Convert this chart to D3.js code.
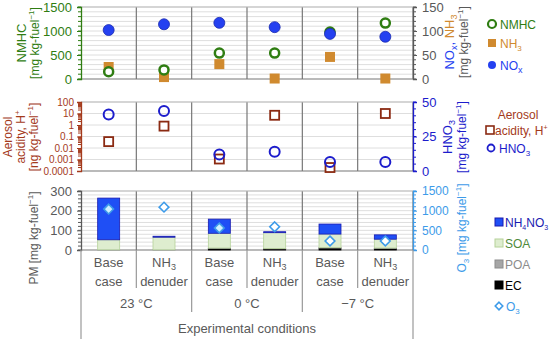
<!DOCTYPE html>
<html>
<head>
<meta charset="utf-8">
<script src="https://cdn.jsdelivr.net/npm/d3@7"></script>
<style>
  body { margin: 0; background: #fff; }
</style>
</head>
<body>
<div id="chart"></div>
<script>
// data
var cats = ["b23", "d23", "b0", "d0", "bm7", "dm7"];
var catTop = ["Base", "NH3", "Base", "NH3", "Base", "NH3"];
var catBottom = ["case", "denuder", "case", "denuder", "case", "denuder"];
var temps = ["23 °C", "0 °C", "−7 °C"];

var nmhc = [150, 190, 540, 540, 980, 1165];      // left axis, mg/kg-fuel
var nh3 = [25, 4, 31, 1, 46, 1];                 // right axis
var nox = [102, 114, 117, 108, 94, 88];          // right axis

var acidity = [0.036, 0.8, 0.0011, 7, 0.0002, 10];   // ng/kg-fuel, log
var hno3 = [41, 43.5, 12, 14, 6.5, 6.5];

var ec = [0, 0, 8, 6, 10, 8];
var poa = [1, 1, 2, 2, 2, 2];
var soa = [51, 64, 75, 80, 69, 45];
var nh4no3 = [212, 5, 72, 5, 51, 22];
var o3 = [1040, 1090, 560, 590, 230, 230];

var W = 550, H = 339;
var FONT = "'Liberation Sans', Arial, Helvetica, sans-serif";
var svg = d3.select("#chart").append("svg").attr("width", W).attr("height", H);

var x = d3.scaleBand().domain(cats).range([81, 413]).padding(0);
var xc = function(i) { return x(cats[i]) + x.bandwidth() / 2; };

var grey = "#595959", gridCol = "#dedede";
var green = "#2f7d12", orange = "#d08a2f", blue = "#2440f0";
var brown = "#a43a1c", navy = "#1c1ccc", sky = "#3d9be9";

var yTop = d3.scaleLinear().domain([0, 1500]).range([79, 7]);
var yTopR = d3.scaleLinear().domain([0, 150]).range([79, 7]);
var yMid = d3.scaleLog().domain([0.0001, 100]).range([171, 102]);
var yMidR = d3.scaleLinear().domain([0, 50]).range([171, 102]);
var yBot = d3.scaleLinear().domain([0, 300]).range([250, 191]);
var yBotR = d3.scaleLinear().domain([0, 1500]).range([250, 191]);

// gridlines
function grid(vals, sc) {
    svg.append("g").selectAll("line").data(vals).enter().append("line")
        .attr("x1", 81).attr("x2", 413)
        .attr("y1", d => sc(d)).attr("y2", d => sc(d))
        .attr("stroke", gridCol).attr("stroke-width", 1);
}
grid(d3.range(100, 1501, 100), yTop);
grid([0.001, 0.01, 0.1, 1, 10, 100], yMid);
grid(d3.range(20, 301, 20), yBot);

// column dividers inside panels
[[7, 79], [102, 171], [191, 250]].forEach(function(p) {
    svg.append("g").selectAll("line").data(cats.slice(1).concat(["end"])).enter().append("line")
        .attr("x1", (d, i) => i < 5 ? x(d) : 413).attr("x2", (d, i) => i < 5 ? x(d) : 413)
        .attr("y1", p[0]).attr("y2", p[1])
        .attr("stroke", "#777").attr("stroke-width", 1.2);
    svg.append("line").attr("x1", 81).attr("x2", 413).attr("y1", p[0]).attr("y2", p[0])
        .attr("stroke", "#bbb");
    svg.append("line").attr("x1", 81).attr("x2", 413).attr("y1", p[1]).attr("y2", p[1])
        .attr("stroke", "#777").attr("stroke-width", 1.2);
});

// axes
var fmt = d3.format("d");
function styleAxis(g, col, size) {
    g.attr("font-family", FONT);
    g.select(".domain").attr("stroke", col).attr("stroke-width", 1.3);
    g.selectAll(".tick line").attr("stroke", col);
    g.selectAll(".tick text").attr("fill", col).style("font-size", size + "px");
}
function minorTicks(xPos, vals, sc, col, dir) {
    svg.append("g").selectAll("line").data(vals).enter().append("line")
        .attr("x1", xPos).attr("x2", xPos + dir * 3)
        .attr("y1", d => sc(d)).attr("y2", d => sc(d))
        .attr("stroke", col).attr("stroke-width", 1);
}

var gA = svg.append("g").attr("transform", "translate(81,0)")
    .call(d3.axisLeft(yTop).tickValues([0, 500, 1000, 1500]).tickFormat(fmt).tickSize(4).tickPadding(5));
styleAxis(gA, green, 13);
minorTicks(81, d3.range(0, 1501, 100), yTop, green, -1);

var gB = svg.append("g").attr("transform", "translate(413,0)")
    .call(d3.axisRight(yTopR).tickValues([0, 50, 100, 150]).tickFormat(fmt).tickSize(4).tickPadding(5));
styleAxis(gB, grey, 13);
minorTicks(413, d3.range(0, 151, 10), yTopR, grey, 1);

var gC = svg.append("g").attr("transform", "translate(81,0)")
    .call(d3.axisLeft(yMid).tickValues([0.0001, 0.001, 0.01, 0.1, 1, 10, 100])
        .tickFormat(d => String(d)).tickSize(4).tickPadding(3));
styleAxis(gC, brown, 10);
var logMinor = [];
[0.0001, 0.001, 0.01, 0.1, 1, 10].forEach(function(b) {
    for (var k = 2; k < 10; k++) logMinor.push(b * k);
});
minorTicks(81, logMinor, yMid, brown, -1);

var gD = svg.append("g").attr("transform", "translate(413,0)")
    .call(d3.axisRight(yMidR).tickValues([0, 25, 50]).tickFormat(fmt).tickSize(4).tickPadding(5));
styleAxis(gD, navy, 13);
minorTicks(413, d3.range(0, 51, 5), yMidR, navy, 1);

var gE = svg.append("g").attr("transform", "translate(81,0)")
    .call(d3.axisLeft(yBot).tickValues([0, 100, 200, 300]).tickFormat(fmt).tickSize(4).tickPadding(5));
styleAxis(gE, grey, 13);
minorTicks(81, d3.range(0, 301, 20), yBot, grey, -1);

var gF = svg.append("g").attr("transform", "translate(413,0)")
    .call(d3.axisRight(yBotR).tickValues([0, 500, 1000, 1500]).tickFormat(fmt).tickSize(4).tickPadding(5));
styleAxis(gF, sky, 12);
minorTicks(413, d3.range(0, 1501, 100), yBotR, sky, 1);

// top panel marks
svg.append("g").selectAll("rect").data(nh3).enter().append("rect")
    .attr("x", (d, i) => xc(i) - 5).attr("y", d => yTopR(d) - 5)
    .attr("width", 10).attr("height", 10).attr("fill", orange);
svg.append("g").selectAll("circle").data(nmhc).enter().append("circle")
    .attr("cx", (d, i) => xc(i)).attr("cy", d => yTop(d)).attr("r", 4.5)
    .attr("fill", "#fff").attr("stroke", green).attr("stroke-width", 2.5);
svg.append("g").selectAll("circle").data(nox).enter().append("circle")
    .attr("cx", (d, i) => xc(i)).attr("cy", d => yTopR(d)).attr("r", 5.5)
    .attr("fill", blue).attr("stroke", "#1a2ab0").attr("stroke-width", 0.8);

// middle panel marks
svg.append("g").selectAll("rect").data(acidity).enter().append("rect")
    .attr("x", (d, i) => xc(i) - 4.5).attr("y", d => yMid(d) - 4.5)
    .attr("width", 9).attr("height", 9).attr("fill", "#fff")
    .attr("stroke", "#8b2a12").attr("stroke-width", 1.8);
svg.append("g").selectAll("circle").data(hno3).enter().append("circle")
    .attr("cx", (d, i) => xc(i)).attr("cy", d => yMidR(d)).attr("r", 5)
    .attr("fill", "none").attr("stroke", navy).attr("stroke-width", 2);

// bottom panel stacked bars
var stackRows = cats.map(function(c, i) {
    return { cat: c, EC: ec[i], POA: poa[i], SOA: soa[i], NH4NO3: nh4no3[i] };
});
var keys = ["EC", "POA", "SOA", "NH4NO3"];
var fills = { EC: "#000", POA: "#a6a6a6", SOA: "#deedcf", NH4NO3: "#1f4ff5" };
var strokes = { EC: "#000", POA: "#8c8c8c", SOA: "#b6d29a", NH4NO3: "#1a1ab0" };
var series = d3.stack().keys(keys)(stackRows);
var bw = 22;
svg.append("g").selectAll("g").data(series).enter().append("g")
    .each(function(s) {
        d3.select(this).selectAll("rect").data(s).enter().append("rect")
            .attr("x", d => x(d.data.cat) + x.bandwidth() / 2 - bw / 2)
            .attr("y", d => yBot(d[1]))
            .attr("width", bw)
            .attr("height", d => Math.max(0, yBot(d[0]) - yBot(d[1])))
            .attr("fill", fills[s.key])
            .attr("stroke", strokes[s.key]).attr("stroke-width", 0.8);
    });
var diamond = d3.symbol().type(d3.symbolDiamond2).size(60);
svg.append("g").selectAll("path").data(o3).enter().append("path")
    .attr("d", diamond)
    .attr("transform", (d, i) => "translate(" + xc(i) + "," + yBotR(d) + ")")
    .attr("fill", (d, i) => i === 0 || i === 2 ? "#cfefff" : "#fff")
    .attr("stroke", sky).attr("stroke-width", 1.6);

// x labels
var xl = svg.append("g").attr("fill", grey).style("font-size", "13px");
cats.forEach(function(c, i) {
    var t = xl.append("text").attr("x", xc(i)).attr("y", 267).attr("text-anchor", "middle");
    if (catTop[i] === "NH3") {
        t.text("NH");
        t.append("tspan").text("3").attr("dy", 3).style("font-size", "9px");
    } else {
        t.text(catTop[i]);
    }
    xl.append("text").attr("x", xc(i)).attr("y", 286).attr("text-anchor", "middle").text(catBottom[i]);
});
temps.forEach(function(t, k) {
    xl.append("text").attr("x", (x(cats[2 * k]) + x(cats[2 * k + 1]) + x.bandwidth()) / 2)
        .attr("y", 308).attr("text-anchor", "middle").text(t);
});
xl.append("text").attr("x", 247).attr("y", 333).attr("text-anchor", "middle").text("Experimental conditions");

// separators below the plot
[1, 3, 5].forEach(function(i) {
    svg.append("line").attr("x1", x(cats[i])).attr("x2", x(cats[i])).attr("y1", 250).attr("y2", 288)
        .attr("stroke", "#999").attr("stroke-width", 1.2);
});
[2, 4].forEach(function(i) {
    svg.append("line").attr("x1", x(cats[i])).attr("x2", x(cats[i])).attr("y1", 250).attr("y2", 312)
        .attr("stroke", "#999").attr("stroke-width", 1.2);
});
[81, 413].forEach(function(xx) {
    svg.append("line").attr("x1", xx).attr("x2", xx).attr("y1", 250).attr("y2", 339)
        .attr("stroke", "#999").attr("stroke-width", 1.2);
});

// axis titles
function vtext(xx, yy, col, size) {
    return svg.append("text").attr("transform", "translate(" + xx + "," + yy + ") rotate(-90)")
        .attr("text-anchor", "middle").attr("fill", col).style("font-size", size + "px");
}
function fuelUnit(t, prefix, unit) {
    t.text(prefix + "[" + unit + " kg-fuel");
    t.append("tspan").text("−1").attr("dy", -5).style("font-size", "8px");
    t.append("tspan").text("]").attr("dy", 5);
}
vtext(26, 43, green, 13).text("NMHC");
fuelUnit(vtext(39, 43, green, 12), "", "mg");

vtext(12, 137, brown, 12).text("Aerosol");
var ah = vtext(25, 137, brown, 12).text("acidity, H");
ah.append("tspan").text("+").attr("dy", -5).style("font-size", "8px");
fuelUnit(vtext(38, 137, brown, 12), "", "ng");

fuelUnit(vtext(38, 238, grey, 12), "PM ", "mg");

var tn = vtext(454, 42, blue, 13).text("NO");
tn.append("tspan").text("x").attr("dy", 3).style("font-size", "9px");
tn.append("tspan").text(", ").attr("dy", -3);
tn.append("tspan").text("NH").attr("fill", orange);
tn.append("tspan").text("3").attr("dy", 3).attr("fill", orange).style("font-size", "9px");
fuelUnit(vtext(468, 42, grey, 12), "", "mg");

var th = vtext(452, 137, navy, 13).text("HNO");
th.append("tspan").text("3").attr("dy", 3).style("font-size", "9px");
fuelUnit(vtext(466, 137, navy, 12), "", "mg");

var to = vtext(466, 228, sky, 12).text("O");
to.append("tspan").text("3").attr("dy", 3).style("font-size", "8px");
to.append("tspan").text(" [mg kg-fuel").attr("dy", -3);
to.append("tspan").text("−1").attr("dy", -5).style("font-size", "8px");
to.append("tspan").text("]").attr("dy", 5);

// legends
var lg = svg.append("g").style("font-size", "12px");
lg.append("circle").attr("cx", 492).attr("cy", 24).attr("r", 4).attr("fill", "#fff")
    .attr("stroke", green).attr("stroke-width", 2.2);
lg.append("text").attr("x", 500).attr("y", 29).attr("fill", green).text("NMHC");
lg.append("rect").attr("x", 488).attr("y", 39).attr("width", 8).attr("height", 8).attr("fill", orange);
var ln = lg.append("text").attr("x", 500).attr("y", 48).attr("fill", orange).text("NH");
ln.append("tspan").text("3").attr("dy", 3).style("font-size", "8px");
lg.append("circle").attr("cx", 492).attr("cy", 65).attr("r", 4).attr("fill", blue);
var lx = lg.append("text").attr("x", 500).attr("y", 70).attr("fill", blue).text("NO");
lx.append("tspan").text("x").attr("dy", 3).style("font-size", "9px");

lg.append("text").attr("x", 518).attr("y", 119).attr("fill", brown).attr("text-anchor", "middle").text("Aerosol");
lg.append("rect").attr("x", 486).attr("y", 126).attr("width", 8).attr("height", 8).attr("fill", "#fff")
    .attr("stroke", "#8b2a12").attr("stroke-width", 1.6);
var la = lg.append("text").attr("x", 495).attr("y", 135).attr("fill", brown).text("acidity, H");
la.append("tspan").text("+").attr("dy", -5).style("font-size", "7px");
lg.append("circle").attr("cx", 491).attr("cy", 148).attr("r", 3.5).attr("fill", "none")
    .attr("stroke", navy).attr("stroke-width", 1.8);
var lh = lg.append("text").attr("x", 499).attr("y", 153).attr("fill", navy).text("HNO");
lh.append("tspan").text("3").attr("dy", 3).style("font-size", "8px");

var bl = [
    { key: "NH4NO3", y: 222, col: "#1a1ab0" },
    { key: "SOA", y: 243, col: "#4f8a3a" },
    { key: "POA", y: 264, col: "#8c8c8c" },
    { key: "EC", y: 285, col: "#000" }
];
bl.forEach(function(b) {
    lg.append("rect").attr("x", 495).attr("y", b.y - 4).attr("width", 8).attr("height", 8)
        .attr("fill", fills[b.key]).attr("stroke", strokes[b.key]);
    var t = lg.append("text").attr("x", 505).attr("y", b.y + 5).attr("fill", b.col);
    if (b.key === "NH4NO3") {
        t.text("NH");
        t.append("tspan").text("4").attr("dy", 3).style("font-size", "7px");
        t.append("tspan").text("NO").attr("dy", -3);
        t.append("tspan").text("3").attr("dy", 3).style("font-size", "7px");
    } else {
        t.text(b.key);
    }
});
lg.append("path").attr("d", d3.symbol().type(d3.symbolDiamond2).size(36))
    .attr("transform", "translate(499,306)").attr("fill", "#fff").attr("stroke", sky).attr("stroke-width", 1.6);
var lo = lg.append("text").attr("x", 506).attr("y", 311).attr("fill", sky).text("O");
lo.append("tspan").text("3").attr("dy", 3).style("font-size", "8px");

// one font for every label
svg.selectAll("text").style("font-family", FONT);
</script>
</body>
</html>
